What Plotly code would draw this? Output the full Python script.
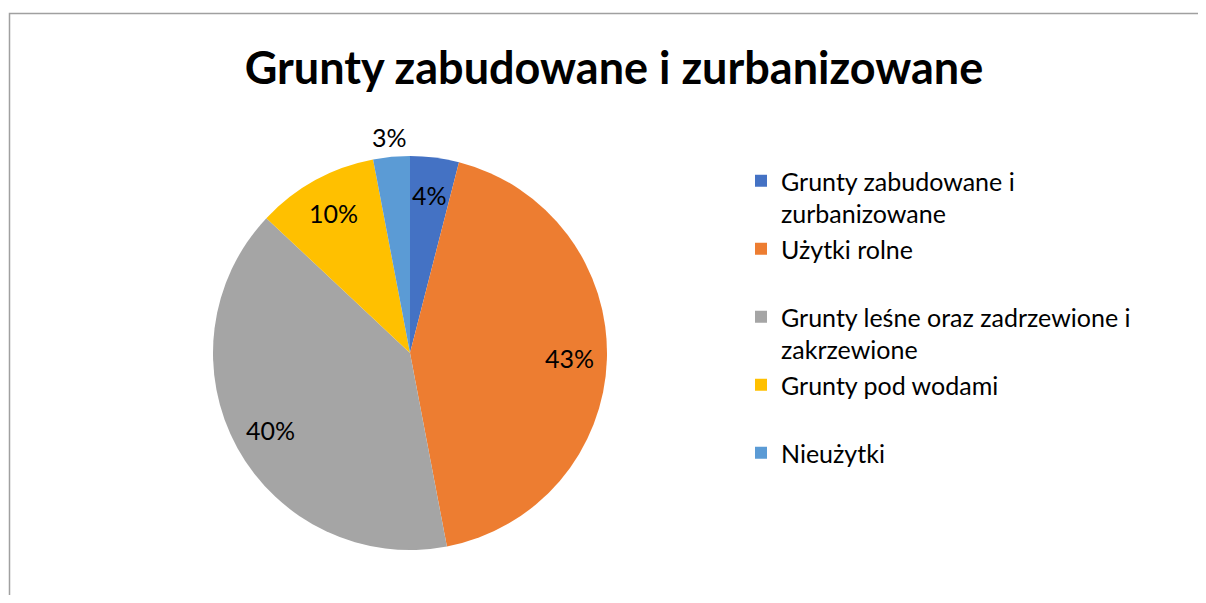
import math
import plotly.graph_objects as go

categories = [
    "Grunty zabudowane i zurbanizowane",
    "Użytki rolne",
    "Grunty leśne oraz zadrzewione i zakrzewione",
    "Grunty pod wodami",
    "Nieużytki",
]
legend_labels = [
    "Grunty zabudowane i<br>zurbanizowane",
    "Użytki rolne<br> ",
    "Grunty leśne oraz zadrzewione i<br>zakrzewione",
    "Grunty pod wodami<br> ",
    "Nieużytki<br> ",
]
values = [4, 43, 40, 10, 3]
colors = ["#4472C4", "#ED7D31", "#A5A5A5", "#FFC000", "#5B9BD5"]
label_inside = [True, True, True, True, False]
title_text = "Grunty zabudowane i zurbanizowane"

FONT = "Lato, Open Sans, sans-serif"
# page body has an 8px margin; figure fits inside the 1206x603 window
W, H = 1190, 587
CX, CY, R = 402, 345, 197  # pie centre / radius in figure pixels

fig = go.Figure(
    go.Pie(
        labels=legend_labels,
        values=values,
        sort=False,
        direction="clockwise",
        rotation=0,
        marker=dict(colors=colors, line=dict(width=0)),
        textinfo="none",
        hoverinfo="label+percent",
        domain=dict(x=[(CX - R) / W, (CX + R) / W], y=[1 - (CY + R) / H, 1 - (CY - R) / H]),
    )
)

# data labels placed along each slice's mid-angle (Excel "best fit" style)
total = sum(values)
annotations = []
cum = 0.0
for v, inside in zip(values, label_inside):
    mid = (cum + v / 2) / total * 2 * math.pi
    cum += v
    rf = 0.81 if inside else 1.1
    px = CX + rf * R * math.sin(mid)
    py = CY - rf * R * math.cos(mid)
    annotations.append(
        dict(
            x=px / W,
            y=1 - py / H,
            xref="paper",
            yref="paper",
            text=f"{round(v / total * 100)}%",
            showarrow=False,
            xanchor="center",
            yanchor="middle",
            font=dict(family=FONT, size=25, color="#000000"),
        )
    )

fig.update_layout(
    width=W,
    height=H,
    margin=dict(l=0, r=0, t=0, b=0),
    paper_bgcolor="white",
    plot_bgcolor="white",
    title=dict(
        text="<b>" + title_text + "</b>",
        x=606 / W,
        xanchor="center",
        xref="paper",
        y=1 - 60 / H,
        yanchor="middle",
        yref="container",
        font=dict(family=FONT, size=45, color="#000000"),
    ),
    legend=dict(
        x=733 / W,
        y=1 - 150 / H,
        xanchor="left",
        yanchor="top",
        valign="top",
        font=dict(family=FONT, size=25, color="#000000"),
        bgcolor="rgba(0,0,0,0)",
        tracegroupgap=0,
    ),
    annotations=annotations,
    shapes=[
        dict(
            type="rect",
            xref="paper",
            yref="paper",
            x0=1.5 / W,
            x1=1.02,
            y0=-0.02,
            y1=1 - 5.5 / H,
            line=dict(color="#A0A0A0", width=1.5),
            fillcolor="rgba(0,0,0,0)",
            layer="below",
        )
    ],
)

fig.write_html("out.html")
